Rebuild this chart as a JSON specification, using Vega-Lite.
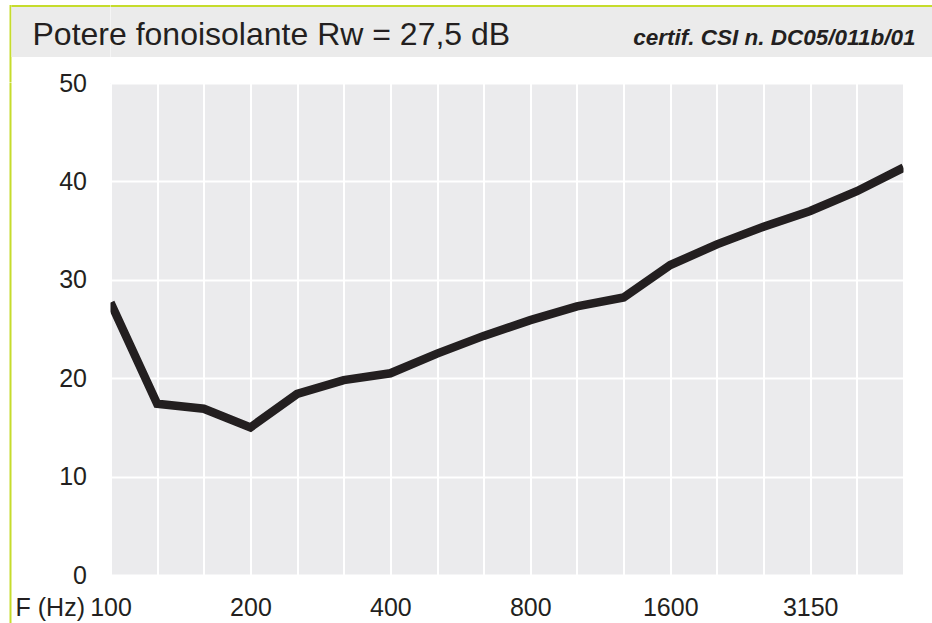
{
  "$schema": "https://vega.github.io/schema/vega-lite/v6.json",
  "background": "white",
  "padding": {"left": 9.5, "top": 5, "right": 0, "bottom": 0},
  "columns": 3,
  "spacing": 0,
  "bounds": "flush",
  "align": "each",
  "config": {"view": {"stroke": null}},
  "concat": [
    {"width": 2, "height": 2, "view": {"fill": "#c6dc2c", "stroke": null}, "data": {"values": []}, "mark": "rect", "encoding": {}},
    {"width": 98.5, "height": 2, "view": {"fill": "#c6dc2c", "stroke": null}, "data": {"values": []}, "mark": "rect", "encoding": {}},
    {"width": 822, "height": 2, "view": {"fill": "#c6dc2c", "stroke": null}, "data": {"values": []}, "mark": "rect", "encoding": {}},

    {"width": 2, "height": 50, "view": {"fill": "#c6dc2c", "stroke": null}, "data": {"values": []}, "mark": "rect", "encoding": {}},
    {"width": 98.5, "height": 50, "view": {"fill": "#ebebeb", "stroke": null}, "data": {"values": []}, "mark": "rect", "encoding": {}},
    {
      "width": 822, "height": 50,
      "view": {"fill": "#ebebeb", "stroke": null},
      "layer": [
        {
          "data": {"values": [{"t": "Potere fonoisolante Rw = 27,5 dB"}]},
          "mark": {"type": "text", "align": "left", "baseline": "alphabetic", "x": 0, "y": 38, "dx": -78, "font": "Liberation Sans", "fontSize": 32, "color": "#231f20"},
          "encoding": {"text": {"field": "t"}}
        },
        {
          "data": {"values": [{"t": "certif. CSI n. DC05/011b/01"}]},
          "mark": {"type": "text", "align": "right", "baseline": "alphabetic", "x": "width", "y": 38, "dx": -17, "font": "Liberation Sans", "fontSize": 22.5, "fontWeight": "bold", "fontStyle": "italic", "color": "#231f20"},
          "encoding": {"text": {"field": "t"}}
        }
      ]
    },

    {"width": 2, "height": 25.5, "view": {"fill": "#c6dc2c", "stroke": null}, "data": {"values": []}, "mark": "rect", "encoding": {}},
    {"width": 98.5, "height": 25.5, "data": {"values": []}, "mark": "rect", "encoding": {}},
    {"width": 822, "height": 25.5, "data": {"values": []}, "mark": "rect", "encoding": {}},

    {"width": 2, "height": 492, "view": {"fill": "#c6dc2c", "stroke": null}, "data": {"values": []}, "mark": "rect", "encoding": {}},
    {"width": 98.5, "height": 492, "data": {"values": []}, "mark": "rect", "encoding": {}},
    {
      "width": 793, "height": 492,
      "view": {"fill": "#ebebed", "stroke": null},
      "data": {"values": [
        {"freq": 100, "R": 27.7},
        {"freq": 125, "R": 17.4},
        {"freq": 160, "R": 16.9},
        {"freq": 200, "R": 15.0},
        {"freq": 250, "R": 18.4},
        {"freq": 315, "R": 19.8},
        {"freq": 400, "R": 20.5},
        {"freq": 500, "R": 22.5},
        {"freq": 630, "R": 24.3},
        {"freq": 800, "R": 25.9},
        {"freq": 1000, "R": 27.3},
        {"freq": 1250, "R": 28.2},
        {"freq": 1600, "R": 31.5},
        {"freq": 2000, "R": 33.6},
        {"freq": 2500, "R": 35.4},
        {"freq": 3150, "R": 37.0},
        {"freq": 4000, "R": 39.0},
        {"freq": 5000, "R": 41.4}
      ]},
      "mark": {"type": "line", "color": "#231f20", "strokeWidth": 8.5, "clip": true, "strokeJoin": "miter"},
      "encoding": {
        "x": {
          "field": "freq", "type": "ordinal", "sort": null,
          "scale": {"type": "point", "padding": 0},
          "axis": {
            "title": "F (Hz)",
            "grid": true, "gridColor": "#ffffff", "gridWidth": 2,
            "ticks": false, "tickSize": 0, "domain": false,
            "labelExpr": "indexof([100,200,400,800,1600,3150], datum.value) >= 0 ? datum.label : ''",
            "labelAngle": 0, "labelAlign": "center", "labelBaseline": "alphabetic",
            "labelPadding": 40.5, "labelOverlap": false, "labelFlush": false,
            "labelFont": "Liberation Sans", "labelFontSize": 25, "labelColor": "#231f20",
            "titleFont": "Liberation Sans", "titleFontSize": 25, "titleFontWeight": "normal", "titleColor": "#231f20",
            "titleX": -26, "titleY": 40.5, "titleAlign": "right", "titleBaseline": "alphabetic", "titleAnchor": null
          }
        },
        "y": {
          "field": "R", "type": "quantitative",
          "scale": {"domain": [0, 50], "nice": false},
          "axis": {
            "title": null, "values": [0, 10, 20, 30, 40, 50],
            "grid": true, "gridColor": "#ffffff", "gridWidth": 2.2,
            "ticks": false, "tickSize": 0, "domain": false,
            "labelPadding": 24, "labelBaseline": "middle", "labelFlush": false, "labelOverlap": false,
            "labelFont": "Liberation Sans", "labelFontSize": 25, "labelColor": "#231f20"
          }
        }
      }
    },

    {"width": 2, "height": 48.5, "view": {"fill": "#c6dc2c", "stroke": null}, "data": {"values": []}, "mark": "rect", "encoding": {}},
    {"width": 98.5, "height": 48.5, "data": {"values": []}, "mark": "rect", "encoding": {}},
    {"width": 822, "height": 48.5, "data": {"values": []}, "mark": "rect", "encoding": {}}
  ]
}
